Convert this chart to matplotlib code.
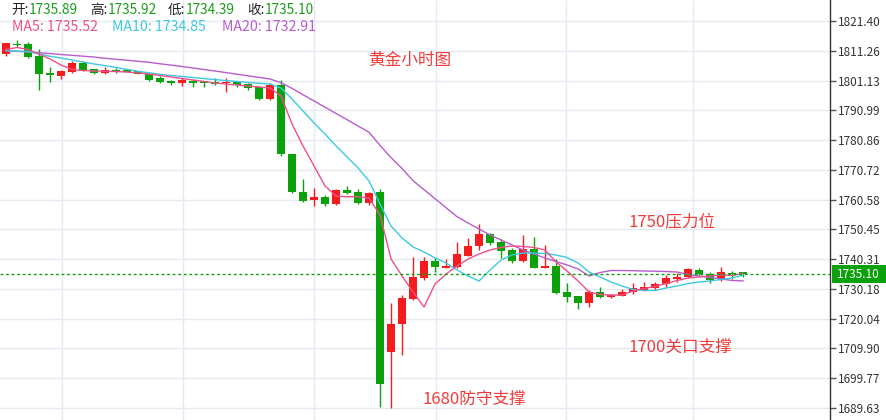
import numpy as np
import matplotlib
matplotlib.use('Agg')
import matplotlib.pyplot as plt
import matplotlib.transforms as mtransforms
from matplotlib.patches import Rectangle

plt.rcParams['font.family'] = ['Noto Sans CJK SC', 'DejaVu Sans']

# 黄金小时K线 (开, 高, 低, 收)
opens = [1810.2, 1813.7, 1813.6, 1809.4, 1803.8, 1802.8, 1804.0, 1807.1, 1805.0, 1803.6,
         1804.7, 1804.6, 1804.3, 1803.5, 1801.9, 1801.0, 1800.2, 1801.0, 1800.9, 1800.5,
         1800.2, 1800.5, 1799.8, 1799.0, 1794.7, 1799.6, 1776.1, 1763.3, 1760.45, 1761.5,
         1759.0, 1763.9, 1763.1, 1759.3, 1763.1, 1708.8, 1718.1, 1726.75, 1733.8, 1739.8,
         1737.4, 1737.7, 1741.5, 1744.8, 1748.9, 1746.05, 1743.4, 1739.7, 1743.7, 1737.4,
         1738.1, 1729.2, 1727.8, 1725.3, 1729.2, 1727.5, 1727.8, 1729.0, 1729.8, 1730.6,
         1731.75, 1733.55, 1734.3, 1736.6, 1735.2, 1733.45, 1735.7, 1735.89]
highs = [1814.0, 1815.0, 1814.2, 1812.0, 1805.8, 1804.7, 1807.9, 1807.7, 1805.2, 1805.7,
         1805.4, 1805.0, 1804.5, 1803.6, 1802.6, 1801.4, 1801.9, 1801.7, 1801.0, 1802.1,
         1801.9, 1801.1, 1800.2, 1799.2, 1800.2, 1801.3, 1776.1, 1767.6, 1764.4, 1762.2,
         1764.2, 1765.3, 1764.2, 1763.3, 1764.2, 1725.5, 1728.0, 1741.15, 1741.15, 1740.6,
         1740.3, 1746.3, 1747.4, 1752.3, 1749.3, 1747.1, 1744.0, 1748.5, 1748.0, 1745.1,
         1740.3, 1732.1, 1727.9, 1729.8, 1730.9, 1728.4, 1730.0, 1732.1, 1732.6, 1732.6,
         1734.9, 1735.5, 1737.2, 1737.4, 1735.8, 1737.7, 1736.4, 1735.92]
lows = [1809.6, 1812.4, 1808.8, 1797.8, 1800.5, 1801.8, 1803.8, 1804.3, 1803.4, 1803.4,
        1803.8, 1803.9, 1803.2, 1801.1, 1800.2, 1799.6, 1799.4, 1799.0, 1799.0, 1799.6,
        1797.1, 1799.0, 1797.9, 1794.5, 1794.5, 1775.4, 1762.8, 1759.8, 1758.5, 1758.5,
        1758.8, 1762.4, 1759.2, 1758.7, 1690.1, 1689.5, 1707.7, 1726.5, 1733.2, 1736.0,
        1737.2, 1737.4, 1741.3, 1743.4, 1745.1, 1740.6, 1738.9, 1739.4, 1737.2, 1737.2,
        1728.6, 1725.8, 1723.2, 1724.1, 1727.2, 1727.2, 1727.6, 1728.5, 1729.5, 1729.8,
        1730.7, 1732.6, 1733.8, 1734.9, 1732.3, 1733.0, 1733.5, 1734.39]
closes = [1813.9, 1813.2, 1809.0, 1803.4, 1802.9, 1804.3, 1807.0, 1804.5, 1803.6, 1804.8,
          1804.1, 1804.1, 1803.4, 1801.3, 1800.7, 1800.2, 1801.4, 1800.4, 1800.4, 1799.8,
          1800.5, 1799.6, 1798.5, 1794.7, 1799.6, 1776.0, 1763.1, 1760.1, 1761.5, 1759.0,
          1763.9, 1762.9, 1759.5, 1762.7, 1697.7, 1718.2, 1727.0, 1734.1, 1739.8, 1737.5,
          1738.1, 1742.0, 1744.9, 1748.9, 1745.9, 1743.1, 1739.7, 1743.7, 1737.4, 1738.1,
          1728.9, 1727.5, 1725.3, 1729.2, 1727.5, 1728.1, 1729.2, 1730.4, 1730.9, 1731.85,
          1734.0, 1734.3, 1736.9, 1735.2, 1733.2, 1736.0, 1735.2, 1735.10]

# 均线
ma5 = [1811.70, 1812.38, 1811.70, 1810.16, 1808.46, 1806.42, 1804.89, 1804.54, 1804.37, 1804.27,
       1804.20, 1804.03, 1803.69, 1803.35, 1802.84, 1802.33, 1801.82, 1801.31, 1800.80, 1800.29,
       1799.95, 1799.61, 1799.27, 1798.93, 1798.59, 1795.86, 1786.33, 1778.84, 1772.03, 1765.22,
       1761.81, 1761.57, 1761.57, 1761.13, 1755.34, 1740.36, 1734.57, 1729.12, 1724.02, 1731.85,
       1735.25, 1737.98, 1740.36, 1742.06, 1743.42, 1744.28, 1744.79, 1744.62, 1744.28, 1743.42,
       1739.34, 1736.27, 1732.87, 1729.12, 1728.27, 1728.10, 1728.10, 1729.46, 1730.32, 1731.00,
       1732.02, 1733.04, 1733.89, 1734.23, 1734.57, 1734.91, 1734.74, 1735.52]
ma10 = [1811.25, 1811.18, 1811.01, 1810.16, 1809.38, 1808.80, 1808.12, 1807.44, 1806.76, 1806.21,
        1805.57, 1804.92, 1804.27, 1803.76, 1803.25, 1802.84, 1802.50, 1802.16, 1801.79, 1801.45,
        1801.11, 1800.80, 1800.46, 1800.19, 1799.95, 1798.59, 1794.84, 1790.75, 1786.67, 1782.92,
        1778.84, 1775.09, 1771.35, 1766.92, 1759.09, 1751.60, 1747.51, 1744.45, 1742.74, 1740.70,
        1739.00, 1736.61, 1734.57, 1732.87, 1736.61, 1740.02, 1741.72, 1742.40, 1742.40, 1742.23,
        1741.72, 1740.87, 1739.00, 1735.93, 1734.23, 1732.53, 1731.17, 1729.98, 1729.63, 1729.63,
        1730.49, 1731.17, 1732.02, 1732.53, 1732.87, 1733.38, 1733.89, 1734.85]
ma20 = [1811.42, 1811.12, 1810.84, 1810.57, 1810.30, 1809.99, 1809.72, 1809.41, 1809.14, 1808.70,
        1808.36, 1808.02, 1807.68, 1807.34, 1806.83, 1806.38, 1805.91, 1805.40, 1804.89, 1804.37,
        1803.83, 1803.28, 1802.74, 1802.20, 1801.65, 1800.39, 1798.45, 1796.30, 1794.16, 1792.05,
        1789.90, 1787.79, 1785.65, 1783.50, 1779.01, 1774.89, 1771.18, 1767.02, 1763.96, 1760.89,
        1757.83, 1754.76, 1752.62, 1750.58, 1748.53, 1746.83, 1745.13, 1743.42, 1742.06, 1740.70,
        1739.51, 1738.32, 1736.96, 1734.57, 1735.76, 1736.44, 1736.44, 1736.38, 1736.27, 1736.21,
        1736.10, 1735.93, 1735.08, 1734.57, 1734.06, 1733.55, 1733.04, 1732.91]

y_ticks = [1821.40, 1811.26, 1801.13, 1790.99, 1780.86, 1770.72, 1760.58,
           1750.45, 1740.31, 1730.18, 1720.04, 1709.90, 1699.77, 1689.63]

header_labels = ['开:', '高:', '低:', '收:']
header_values = ['1735.89', '1735.92', '1734.39', '1735.10']
ma_names = ['MA5', 'MA10', 'MA20']

notes = ['黄金小时图', '1750压力位', '1700关口支撑', '1680防守支撑']
note_x = [32.9, 56.6, 56.6, 37.9]
note_y = [1808.1, 1752.9, 1710.4, 1692.7]

RED = '#f41c1c'
GREEN = '#0ba10b'
C_MA5 = '#f0508a'
C_MA10 = '#3ec8e2'
C_MA20 = '#b85ccf'
GRID = '#e4eaf0'

W, H = 887, 420
fig = plt.figure(figsize=(W / 100, H / 100), dpi=100)
ax = fig.add_axes([0, 0, 830 / W, 1])

x = np.arange(len(closes))
o = np.array(opens)
c = np.array(closes)
colors = np.where(c >= o, RED, GREEN)

# 网格
ax.set_yticks(y_ticks)
ax.grid(axis='y', color=GRID, linewidth=1, zorder=0)
ax.vlines([5.1, 16.1, 28, 39.1, 50.9, 62.45], 0, 1, transform=ax.get_xaxis_transform(),
          color=GRID, linewidth=1, zorder=0)

# K线
ax.vlines(x, lows, highs, colors=colors, linewidth=1, zorder=2)
body_h = np.maximum(np.abs(c - o), 0.35)
ax.bar(x, body_h, bottom=np.minimum(o, c), width=0.8, color=colors, linewidth=0, zorder=3)

# 均线
ax.plot(x, ma20, color=C_MA20, linewidth=1, zorder=4)
ax.plot(x, ma10, color=C_MA10, linewidth=1, zorder=4)
ax.plot(x, ma5, color=C_MA5, linewidth=1, zorder=4)

# 现价线
last = closes[-1]
ax.axhline(last, color=GREEN, linewidth=1, linestyle=(0, (2, 2)), zorder=5)

ax.set_xlim(-0.545, 74.9)
ax.set_ylim(1685.54, 1828.55)

ax.yaxis.tick_right()
ax.yaxis.set_major_formatter(plt.FormatStrFormatter('%.2f'))
ax.tick_params(axis='y', direction='out', length=4, width=1, color='#555555',
               labelsize=8.5, labelcolor='#333333', pad=2)
ax.tick_params(axis='x', bottom=False, labelbottom=False)
for s in ['left', 'top', 'bottom']:
    ax.spines[s].set_visible(False)
ax.spines['right'].set_color('#333333')
ax.spines['right'].set_linewidth(1)

# 现价标签
trans = mtransforms.blended_transform_factory(ax.transAxes, ax.transData)
ax.add_patch(Rectangle((1 + 2 / 830, last - 3.0), 57 / 830, 6.1, transform=trans,
                       facecolor=GREEN, edgecolor='none', clip_on=False, zorder=10))
ax.text(1 + 7 / 830, last, '%.2f' % last, transform=trans, color='white', fontsize=8.5,
        va='center', ha='left', clip_on=False, zorder=11)

# 标注
for t, nx, ny in zip(notes, note_x, note_y):
    ax.text(nx, ny, t, color='#f23a3a', fontsize=12, ha='left', va='center', zorder=6)

# 顶部信息: 标签后面紧接数值
label_px = [11, 90, 168, 247]
for lab, val, lx in zip(header_labels, header_values, label_px):
    t = fig.text(lx / W, 1 - 10 / H, lab, color='#222222', fontsize=9.8, va='center')
    ax.annotate(val, xy=(1, 0.5), xycoords=t, xytext=(0.5, 0), textcoords='offset points',
                color='#1a9e1a', fontsize=9.8, va='center', ha='left', annotation_clip=False)

ma_vals = [ma5[-1], ma10[-1], ma20[-1]]
ma_cols = [C_MA5, C_MA10, C_MA20]
for name, v, col, px in zip(ma_names, ma_vals, ma_cols, [12, 112, 222]):
    fig.text(px / W, 1 - 27 / H, '%s: %.2f' % (name, v), color=col, fontsize=10.2, va='center')

fig.savefig('out.png', dpi=100)
